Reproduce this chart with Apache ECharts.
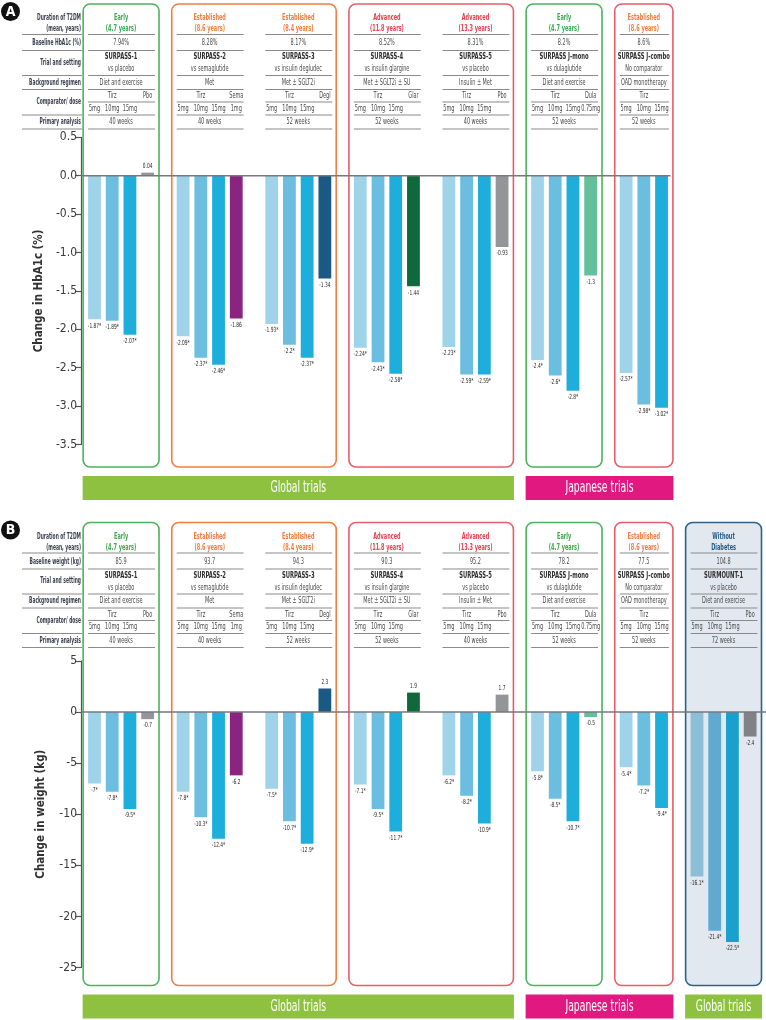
<!DOCTYPE html>
<html><head><meta charset="utf-8">
<script src="https://cdn.jsdelivr.net/npm/echarts@6/dist/echarts.min.js"></script>
<style>html,body{margin:0;padding:0;background:#fff}#c{width:766px;height:1020px}</style>
</head><body><div id="c"></div>
<script>
// ================= DATA =================
const trials = ['SURPASS-1','SURPASS-2','SURPASS-3','SURPASS-4','SURPASS-5','SURPASS J-mono','SURPASS J-combo','SURMOUNT-1'];
const stage = ['Early','Established','Established','Advanced','Advanced','Early','Established','Without'];
const stageYears = ['(4.7 years)','(8.6 years)','(8.4 years)','(11.8 years)','(13.3 years)','(4.7 years)','(8.6 years)','Diabetes'];
const settings = ['vs placebo','vs semaglutide','vs insulin degludec','vs insulin glargine','vs placebo','vs dulaglutide','No comparator','vs placebo'];
const backgrounds = ['Diet and exercise','Met','Met ± SGLT2i','Met ± SGLT2i ± SU','Insulin ± Met','Diet and exercise','OAD monotherapy','Diet and exercise'];
const tirzDoses = ['5mg','10mg','15mg'];
const comparators = ['Pbo','Sema','Degl','Glar','Pbo','Dula','','Pbo'];
const comparatorDoses = ['','1mg','','','','0.75mg','',''];
const analysisWeeks = ['40 weeks','40 weeks','52 weeks','52 weeks','40 weeks','52 weeks','52 weeks','72 weeks'];
const baselineHbA1c = ['7.94%','8.28%','8.17%','8.52%','8.31%','8.2%','8.6%'];
const baselineWeight = ['85.9','93.7','94.3','90.3','95.2','78.2','77.5','104.8'];

// Panel A: change in HbA1c (%)
const hba1cTirz5  = [-1.87,-2.09,-1.93,-2.24,-2.23,-2.4,-2.57];
const hba1cTirz10 = [-1.89,-2.37,-2.2,-2.43,-2.59,-2.6,-2.98];
const hba1cTirz15 = [-2.07,-2.46,-2.37,-2.58,-2.59,-2.8,-3.02];
const hba1cComp   = [0.04,-1.86,-1.34,-1.44,-0.93,-1.3,null];
const hba1cTicks  = [0.5,0.0,-0.5,-1.0,-1.5,-2.0,-2.5,-3.0,-3.5];

// Panel B: change in weight (kg)
const weightTirz5  = [-7,-7.8,-7.5,-7.1,-6.2,-5.8,-5.4,-16.1];
const weightTirz10 = [-7.8,-10.3,-10.7,-9.5,-8.2,-8.5,-7.2,-21.4];
const weightTirz15 = [-9.5,-12.4,-12.9,-11.7,-10.9,-10.7,-9.4,-22.5];
const weightComp   = [-0.7,-6.2,2.3,1.9,1.7,-0.5,null,-2.4];
const weightTicks  = [5,0,-5,-10,-15,-20,-25];

const panelATrials = [0,1,2,3,4,5,6];
const panelBTrials = [0,1,2,3,4,5,6,7];
const boxGroupsA = [[0],[1,2],[3,4],[5],[6]];
const boxGroupsB = [[0],[1,2],[3,4],[5],[6],[7]];
const regionsA = [{name:'Global trials', from:0, to:2},{name:'Japanese trials', from:3, to:4}];
const regionsB = [{name:'Global trials', from:0, to:2},{name:'Japanese trials', from:3, to:4},{name:'Global trials', from:5, to:5}];

// ================= STYLE =================
const boxColorsA = ['#4cb35e','#f07d42','#e75d68','#4cb35e','#e75d68'];
const boxColorsB = ['#4cb35e','#f07d42','#e75d68','#4cb35e','#e75d68','#2b6090'];
const stageColor = {Early:'#3aa94b', Established:'#f07b3f', Advanced:'#e6414f', Without:'#1d5b8c'};
const tirzColors = ['#9fd3ea','#6bbee0','#1eaedb'];
const tirzColorsSM = ['#8cbfd7','#60aacf','#17a1cc'];
const compColors = {Pbo:'#939598', Sema:'#8b2481', Degl:'#1a5982', Glar:'#10693b', Dula:'#64c09a'};
const regionColors = {'Global trials':'#8dc13f','Japanese trials':'#e1187f'};

function hasFont(name){
  const c=document.createElement('canvas').getContext('2d');
  const s='abcdefghijklmnopqrstuvwxyz0123456789ABCDEF';
  c.font='40px monospace'; const w1=c.measureText(s).width;
  c.font="40px '"+name+"', monospace"; return c.measureText(s).width!==w1;
}
const NARROW = ['Liberation Sans Narrow','DejaVu Sans Condensed','Roboto Condensed'].find(hasFont);
const FONT = NARROW ? "'"+NARROW+"', 'Liberation Sans', sans-serif" : "'Liberation Sans', sans-serif";
const mctx=document.createElement('canvas').getContext('2d');
mctx.font='8px '+FONT;
const CF = Math.min(1, 43 / mctx.measureText('Diet and exercise').width);
mctx.font='bold 8px '+FONT;
const CFB = Math.min(1, 44 / mctx.measureText('Duration of T2DM').width);

function fmt(v){ return String(v); }

function buildPanel(ids, v5, v10, v15, vc){
  const cats=[], data=[], layout=[], labels=[];
  ids.forEach((t,k)=>{
    if(k>0){ cats.push('gap'+k); data.push('-'); }
    const first=cats.length;
    const tc = t===7 ? tirzColorsSM : tirzColors;
    [v5,v10,v15].forEach((arr,d)=>{
      labels.push({slot:cats.length, value:arr[t], text:fmt(arr[t])+'*'});
      cats.push(trials[t]+' '+tirzDoses[d]);
      data.push({value:arr[t], itemStyle:{color:tc[d]}});
    });
    let comp=-1;
    if(vc[t]!==null && vc[t]!==undefined){
      comp=cats.length;
      labels.push({slot:cats.length, value:vc[t], text:fmt(vc[t])});
      cats.push(trials[t]+' '+comparators[t]);
      const col = t===7 ? '#808285' : compColors[comparators[t]];
      data.push({value:vc[t], itemStyle:{color:col}});
    }
    layout.push({t, first, last:cats.length-1, comp});
  });
  return {cats, data, layout, labels};
}

const PA = buildPanel(panelATrials, hba1cTirz5, hba1cTirz10, hba1cTirz15, hba1cComp);
const PB = buildPanel(panelBTrials, weightTirz5, weightTirz10, weightTirz15, weightComp);

const slotW = 17.72, gridLeft = 85.64, axisX = 81;
const chart = echarts.init(document.getElementById('c'), null, {renderer:'canvas'});

function yAxisCfg(g, ticks, name, dec){
  return {
    gridIndex:g, type:'value', min:Math.min(...ticks), max:Math.max(...ticks),
    interval: Math.abs(ticks[0]-ticks[1]), offset: gridLeft-axisX,
    splitLine:{show:false},
    axisLine:{show:true, onZero:false, lineStyle:{color:'#555', width:1.2}},
    axisTick:{show:true, length:6, lineStyle:{color:'#555', width:1.2}},
    axisLabel:{formatter:v=>v.toFixed(dec), fontSize:12, color:'#3a3a3a', fontFamily:FONT, margin:4},
    name, nameLocation:'middle', nameGap:34,
    nameTextStyle:{fontSize:11.5, fontWeight:'bold', color:'#333', fontFamily:FONT}
  };
}
function xAxisCfg(g, cats){
  return {gridIndex:g, type:'category', data:cats, axisLine:{show:false}, axisTick:{show:false}, axisLabel:{show:false}, splitLine:{show:false}};
}
function seriesCfg(g, data){
  return {type:'bar', xAxisIndex:g, yAxisIndex:g, data, barWidth:12.8, z:3};
}

chart.setOption({
  animation:false,
  grid:[
    {left:gridLeft, top:137.3, width:PA.cats.length*slotW, height:307.2},
    {left:gridLeft, top:660.9, width:PB.cats.length*slotW, height:306.6}
  ],
  xAxis:[xAxisCfg(0,PA.cats), xAxisCfg(1,PB.cats)],
  yAxis:[yAxisCfg(0,hba1cTicks,'Change in HbA1c (%)',1), yAxisCfg(1,weightTicks,'Change in weight (kg)',0)],
  series:[seriesCfg(0,PA.data), seriesCfg(1,PB.data)]
});

// ================= DECORATION (table, boxes, banners, value labels) =================
const G=[];
function txt(s,x,y,o={}){
  G.push({type:'text', x, y, scaleX:(o.sx!==undefined?o.sx:(o.bold?CFB:CF)), z:20, silent:true,
    style:{text:s, x:0, y:0, align:o.align||'center', verticalAlign:'middle',
      fontSize:o.size||8, fontWeight:o.bold?'bold':'normal', fontFamily:FONT, fill:o.color||'#4a4a4a'}});
}
function line(x1,y1,x2,y2,o={}){
  G.push({type:'line', z:(o.z!==undefined?o.z:15), silent:true, shape:{x1,y1,x2,y2}, style:{stroke:o.color||'#8a8a8a', lineWidth:o.w||1.1}});
}
function rect(x,y,w,h,o={}){
  G.push({type:'rect', z:(o.z!==undefined?o.z:1), silent:true, shape:{x,y,width:w,height:h,r:o.r||0}, style:{fill:o.fill||'none', stroke:o.stroke||'none', lineWidth:o.w||1}});
}
const px=(g,slot)=>chart.convertToPixel({gridIndex:g},[slot,0])[0];
const zeroY=(g)=>chart.convertToPixel({yAxisIndex:g},0);

const LBL='#3c3f4f';
function drawPanel(g, P, oy, letter, baseLabel, baseVals, boxGroups, boxColors, regions, zeroEnd){
  const sw = px(g,1)-px(g,0);
  // badge
  G.push({type:'circle', z:20, silent:true, shape:{cx:10.5, cy:oy+11.5, r:9.5}, style:{fill:'#111'}});
  txt(letter, 10.5, oy+12, {bold:true, size:14, color:'#fff', sx:1});
  // label column
  const LX=81;
  txt('Duration of T2DM', LX, oy+18, {align:'right', bold:true, color:LBL});
  txt('(mean, years)', LX, oy+29, {align:'right', bold:true, color:LBL});
  txt(baseLabel, LX, oy+43, {align:'right', bold:true, color:LBL});
  txt('Trial and setting', LX, oy+62.5, {align:'right', bold:true, color:LBL});
  txt('Background regimen', LX, oy+82.5, {align:'right', bold:true, color:LBL});
  txt('Comparator/ dose', LX, oy+102, {align:'right', bold:true, color:LBL});
  txt('Primary analysis', LX, oy+122, {align:'right', bold:true, color:LBL});
  [34.5,50.5,75.5,89.5,115,129].forEach(yy=>line(22,oy+yy,82,oy+yy));
  // trial columns
  P.layout.forEach(L=>{
    const t=L.t;
    const xs=px(g,L.first), xe=px(g,L.last);
    const xl=xs-sw/2+2.5, xr=xe+sw/2-1.5, xc=(xs+xe)/2;
    const sc=stageColor[stage[t]];
    txt(stage[t], xc, oy+18, {bold:true, size:9, color:sc});
    txt(stageYears[t], xc, oy+29, {bold:true, size:9, color:sc});
    txt(baseVals[t], xc, oy+43);
    txt(trials[t], xc, oy+57, {bold:true, size:9.5, color:'#2f2f2f'});
    txt(settings[t], xc, oy+69);
    txt(backgrounds[t], xc, oy+82.5);
    txt('Tirz', (px(g,L.first)+px(g,L.first+2))/2, oy+96);
    if(L.comp>=0) txt(comparators[t], px(g,L.comp), oy+96);
    for(let d=0; d<3; d++) txt(tirzDoses[d], px(g,L.first+d), oy+108.5);
    if(L.comp>=0 && comparatorDoses[t]) txt(comparatorDoses[t], px(g,L.comp), oy+108.5);
    txt(analysisWeeks[t], xc, oy+122);
    [34.5,50.5,75.5,89.5,102,115,129].forEach(yy=>line(xl,oy+yy,xr,oy+yy));
  });
  // value labels at bar ends (positions from the chart's own scales)
  P.labels.forEach(l=>{
    const p=chart.convertToPixel({gridIndex:g},[l.slot,l.value]);
    txt(l.text, p[0], p[1]+(l.value<0?6.5:-6.5), {size:7, color:'#222'});
  });
  // boxes
  const boxX=[];
  boxGroups.forEach((grp,i)=>{
    const Lf=P.layout[grp[0]], Ll=P.layout[grp[grp.length-1]];
    const x1=px(g,Lf.first)-sw/2-2.5, x2=px(g,Ll.last)+sw/2+2.5;
    boxX.push([x1,x2]);
    const blue = boxColors[i]==='#2b6090';
    rect(x1, oy+4, x2-x1, 463, {stroke:boxColors[i], w:1.6, r:7, fill: blue?'#e2e8f0':'none', z:1});
  });
  // banners
  regions.forEach(R=>{
    const x1=boxX[R.from][0]-0.5, x2=boxX[R.to][1]+0.5;
    rect(x1, oy+476, x2-x1, 24, {fill:regionColors[R.name], z:1});
    txt(R.name, (x1+x2)/2, oy+488.5, {size:15, color:'#fff'});
  });
  // zero line
  const zy=zeroY(g);
  line(axisX, zy, zeroEnd, zy, {color:'#77787b', w:1.4, z:10});
}

drawPanel(0, PA, 0, 'A', 'Baseline HbA1c (%)', baselineHbA1c, boxGroupsA, boxColorsA, regionsA, 670.5);
drawPanel(1, PB, 518.5, 'B', 'Baseline weight (kg)', baselineWeight, boxGroupsB, boxColorsB, regionsB, 766);

chart.setOption({graphic:G});
</script>
</body></html>
